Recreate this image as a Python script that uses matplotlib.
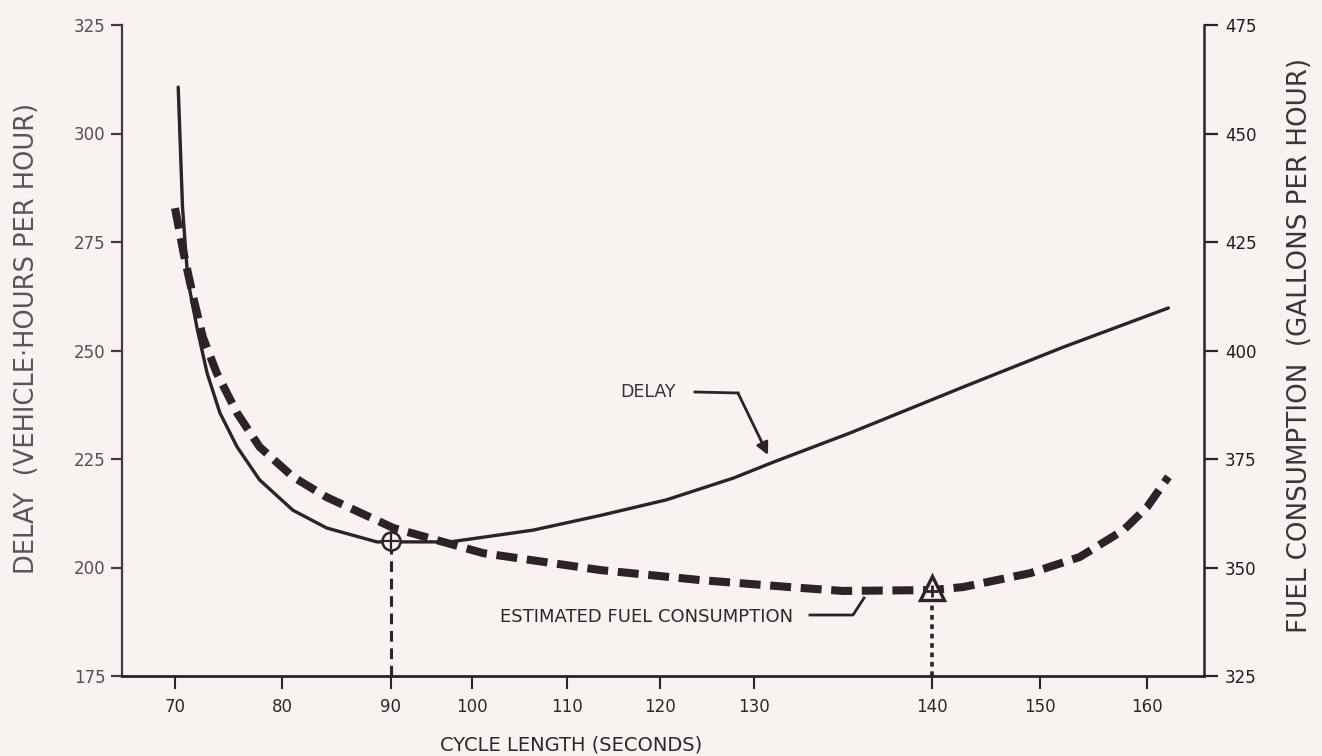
import numpy as np
import matplotlib.pyplot as plt

# axis ticks
cycle_ticks = [70, 80, 90, 100, 110, 120, 130, 140, 150, 160]
delay_ticks = [175, 200, 225, 250, 275, 300, 325]
fuel_ticks = [325, 350, 375, 400, 425, 450, 475]

# delay curve (left axis, vehicle-hours per hour)
delay_cycle = [70.3, 70.7, 71.2, 72.1, 73.0, 74.2, 75.8, 77.9, 81.0, 84.1, 88.7, 90.1,
               97.3, 106.4, 113.6, 120.7, 127.8, 131.1, 135.4, 142.9, 152.2, 162.0]
delay_vals = [310.7, 283.1, 266.2, 254.7, 244.8, 235.6, 227.8, 220.2, 213.2, 209.1, 205.9, 205.9,
              205.9, 208.6, 212.0, 215.6, 220.6, 224.3, 231.0, 241.6, 250.8, 259.8]

# estimated fuel consumption (right axis, gallons per hour)
fuel_cycle = [70.0, 70.8, 71.7, 72.6, 73.9, 75.8, 77.9, 81.0, 84.1, 87.2, 90.3, 101.2,
              113.6, 124.3, 132.6, 135.0, 140.0, 142.9, 149.1, 153.7, 157.8, 160.0, 162.0]
fuel_vals = [432.8, 422.5, 412.3, 403.1, 394.8, 385.6, 377.8, 370.9, 366.2, 362.6, 359.1, 353.3,
             349.4, 347.1, 345.3, 344.6, 344.8, 345.5, 348.7, 352.4, 358.6, 363.9, 370.9]

# optimum points
opt_delay_cycle, opt_delay = 90, 206
opt_fuel_cycle, opt_fuel = 140, 345.3

bg = '#f8f3f0'
ink = '#2e2127'
W, H = 1322, 756

# the original drawing has unevenly spaced tick marks on the cycle axis (pixel positions)
tick_px = [175, 282, 391, 472, 567, 660, 754, 932, 1040, 1147]
ext_vals = [60] + cycle_ticks + [170]
ext_px = [tick_px[0] - 107] + tick_px + [tick_px[-1] + 107]


def fwd(x):
    return np.interp(x, ext_vals, ext_px)


def inv(p):
    return np.interp(p, ext_px, ext_vals)


ax_l, ax_r, ax_t, ax_b = 122, 1204, 25, 676


def px(x, y):
    # pixel of the reference picture -> axes fraction
    return ((x - ax_l) / (ax_r - ax_l), (ax_b - y) / (ax_b - ax_t))


plt.rcParams['font.family'] = 'DejaVu Sans'

fig = plt.figure(figsize=(W / 100, H / 100), dpi=100, facecolor=bg)
ax = fig.add_axes([ax_l / W, 1 - ax_b / H, (ax_r - ax_l) / W, (ax_b - ax_t) / H])
ax.set_facecolor(bg)
ax.set_xscale('function', functions=(fwd, inv))
ax.set_xlim(inv(ax_l), inv(ax_r))
ax.set_ylim(175, 325)
ax2 = ax.twinx()
ax2.set_ylim(325, 475)

ax.plot(delay_cycle, delay_vals, color=ink, lw=2.4, solid_capstyle='round',
        solid_joinstyle='round', zorder=3)
ax2.plot(fuel_cycle, fuel_vals, color=ink, lw=5.8, dashes=(2.6, 1.2), zorder=3)

# drop lines to the axis
ax.vlines(opt_delay_cycle, 175, opt_delay, color=ink, lw=2.2, linestyles=(0, (3.5, 2.2)), zorder=2)
ax2.vlines(opt_fuel_cycle, 325, opt_fuel, color=ink, lw=2.6, linestyles=(0, (1.3, 1.3)), zorder=2)

# markers
ax.plot(opt_delay_cycle, opt_delay, marker='o', ms=13, mfc=bg, mec=ink, mew=1.8, zorder=5)
ax.plot(opt_delay_cycle, opt_delay, marker='+', ms=12, mec=ink, mew=1.6, zorder=6)
ax2.plot(opt_fuel_cycle, opt_fuel, marker='^', ms=17, mfc=bg, mec=ink, mew=2.4, zorder=5)
ax2.plot(opt_fuel_cycle, opt_fuel - 0.8, marker='+', ms=9, mec=ink, mew=2.0, zorder=6)

# spines and ticks
for s in ['top', 'right']:
    ax.spines[s].set_visible(False)
for s in ['top', 'left', 'bottom']:
    ax2.spines[s].set_visible(False)
ax.spines['left'].set_color('#4a3540')
ax.spines['left'].set_linewidth(1.6)
ax.spines['bottom'].set_color(ink)
ax.spines['bottom'].set_linewidth(2.0)
ax2.spines['right'].set_color(ink)
ax2.spines['right'].set_linewidth(1.8)

ax.set_xticks(cycle_ticks)
ax.set_xticklabels([str(v) for v in cycle_ticks])
ax.set_yticks(delay_ticks)
ax2.set_yticks(fuel_ticks)
ax.minorticks_off()
ax2.minorticks_off()

ax.tick_params(axis='x', direction='out', length=9, width=1.5, pad=7, labelsize=12,
               color=ink, labelcolor='#2e2729')
ax.tick_params(axis='y', direction='out', length=8, width=1.6, pad=4, labelsize=12,
               color='#4a3540', labelcolor='#5b4b53')
ax2.tick_params(axis='y', direction='out', length=10, width=1.6, pad=5, labelsize=12,
                color=ink, labelcolor='#231c1f')

# axis titles
ax.set_xlabel('CYCLE LENGTH (SECONDS)', fontsize=14, color='#2e2729')
ax.xaxis.set_label_coords(*px(571, 745))
ax.set_ylabel('DELAY  (VEHICLE·HOURS PER HOUR)', fontsize=18.5, color='#5d5259')
ax.yaxis.set_label_coords(*px(27, 338))
ax2.set_ylabel('FUEL CONSUMPTION  (GALLONS PER HOUR)', fontsize=18.8, color='#3d3437')
ax2.yaxis.set_label_coords(*px(1300, 345))
ax.xaxis.label.set_va('center')
ax.yaxis.label.set_va('center')
ax2.yaxis.label.set_va('center')
ax2.yaxis.label.set_rotation(90)

# annotations
ax.text(*px(648, 392), 'DELAY', transform=ax.transAxes, ha='center', va='center',
        fontsize=12.5, color='#3a2f34')
ax.plot(*zip(px(695, 392), px(738, 393)), transform=ax.transAxes, color=ink, lw=2)
ax.annotate('', xy=px(768, 455), xytext=px(738, 393), xycoords='axes fraction',
            textcoords='axes fraction',
            arrowprops=dict(arrowstyle='-|>', color=ink, lw=2, mutation_scale=18,
                            shrinkA=0, shrinkB=0))

ax.text(*px(647, 617), 'ESTIMATED FUEL CONSUMPTION', transform=ax.transAxes, ha='center',
        va='center', fontsize=13, color='#2e2729')
ax.plot(*zip(px(810, 615), px(853, 615), px(864, 598)), transform=ax.transAxes,
        color=ink, lw=2)

fig.savefig('out.png', dpi=100, facecolor=bg)
